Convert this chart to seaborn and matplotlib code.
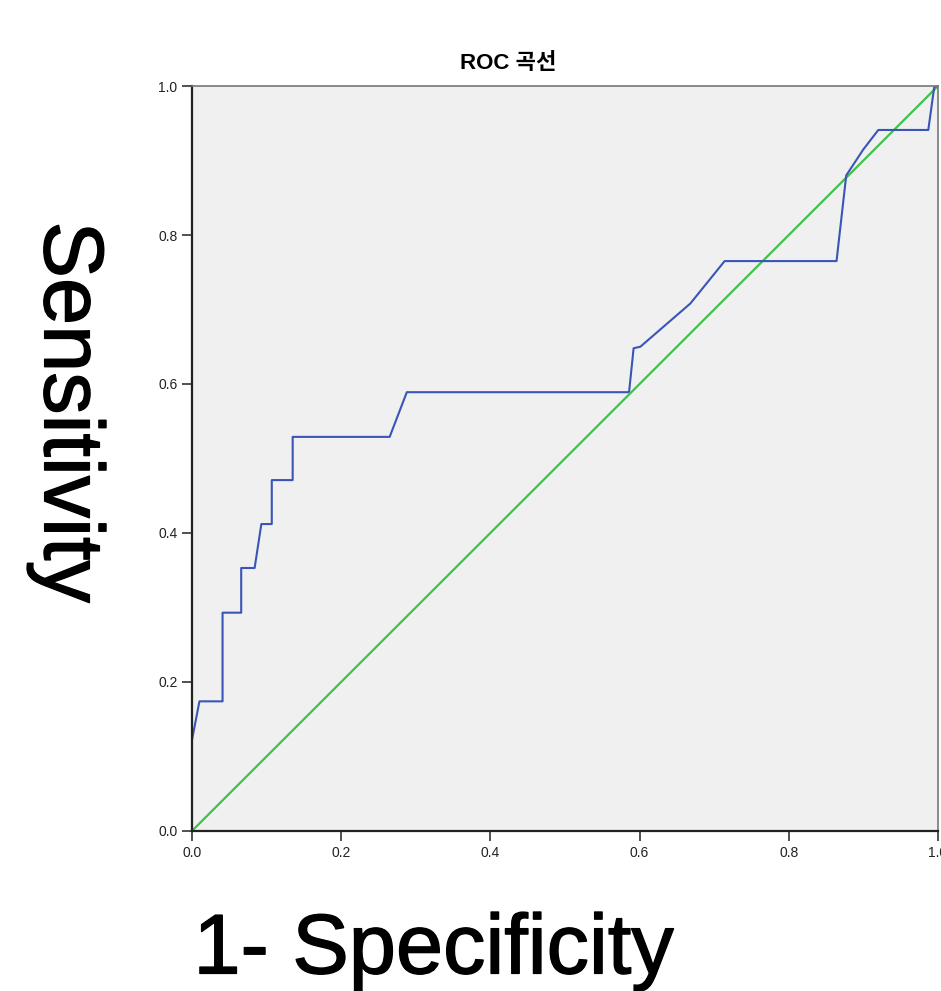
import numpy as np
import pandas as pd
import matplotlib
matplotlib.use("Agg")
import matplotlib.pyplot as plt
import matplotlib.patheffects as pe
import seaborn as sns

# ROC curve points (1 - specificity, sensitivity)
fpr = [0.0, 0.0, 0.010, 0.041, 0.041, 0.066, 0.066, 0.084, 0.093, 0.107, 0.107,
       0.135, 0.135, 0.265, 0.288, 0.585, 0.586, 0.592, 0.601, 0.668, 0.714,
       0.864, 0.877, 0.900, 0.920, 0.987, 0.995, 1.0]
tpr = [0.0, 0.122, 0.174, 0.174, 0.293, 0.293, 0.353, 0.353, 0.412, 0.412, 0.471,
       0.471, 0.529, 0.529, 0.589, 0.589, 0.590, 0.648, 0.650, 0.708, 0.765,
       0.765, 0.880, 0.915, 0.941, 0.941, 0.999, 1.0]
ref_line = [0.0, 1.0]
ticks = [0.0, 0.2, 0.4, 0.6, 0.8, 1.0]
tick_labels = ["0.0", "0.2", "0.4", "0.6", "0.8", "1.0"]

sns.set_style("ticks", {"axes.facecolor": "#f0f0f0", "axes.edgecolor": "#444444"})
plt.rcParams["font.family"] = ["Liberation Sans", "Noto Sans CJK KR", "DejaVu Sans"]

roc = pd.DataFrame({"fpr": fpr, "tpr": tpr})
diag = pd.DataFrame({"x": ref_line, "y": ref_line})

fig = plt.figure(figsize=(9.41, 9.91), dpi=100)
ax = fig.add_axes([0.204, 0.1615, 0.7928, 0.7517])

sns.lineplot(data=diag, x="x", y="y", color="#3ec24a", linewidth=1.6, ax=ax)
sns.lineplot(data=roc, x="fpr", y="tpr", sort=False, estimator=None,
             color="#3a55b8", linewidth=1.5, ax=ax)

ax.set_xlim(0, 1)
ax.set_ylim(0, 1)
ax.set_xticks(ticks)
ax.set_yticks(ticks)
ax.set_xticklabels(tick_labels, fontsize=10, color="#222222")
ax.set_yticklabels(tick_labels, fontsize=10, color="#222222")
ax.tick_params(axis="both", length=7, width=1.2, color="#333333")
for side in ["left", "bottom"]:
    ax.spines[side].set_linewidth(1.6)
    ax.spines[side].set_color("#222222")
for side in ["top", "right"]:
    ax.spines[side].set_linewidth(1.2)
    ax.spines[side].set_color("#777777")

# big axis labels, slightly heavier than regular weight
heavy = [pe.withStroke(linewidth=1.0, foreground="black")]
ax.set_title("ROC 곡선", fontsize=16, fontweight="bold", color="black", x=0.424, pad=12)
ax.set_xlabel("1- Specificity", fontsize=61, color="black", path_effects=heavy,
              ha="left", va="top")
ax.xaxis.set_label_coords(0.002, -0.108)
ax.set_ylabel("Sensitivity", fontsize=61, color="black", path_effects=heavy,
              rotation=270, ha="center", va="center")
ax.yaxis.set_label_coords(-0.168, 0.562)

fig.savefig("out.png", dpi=100)
